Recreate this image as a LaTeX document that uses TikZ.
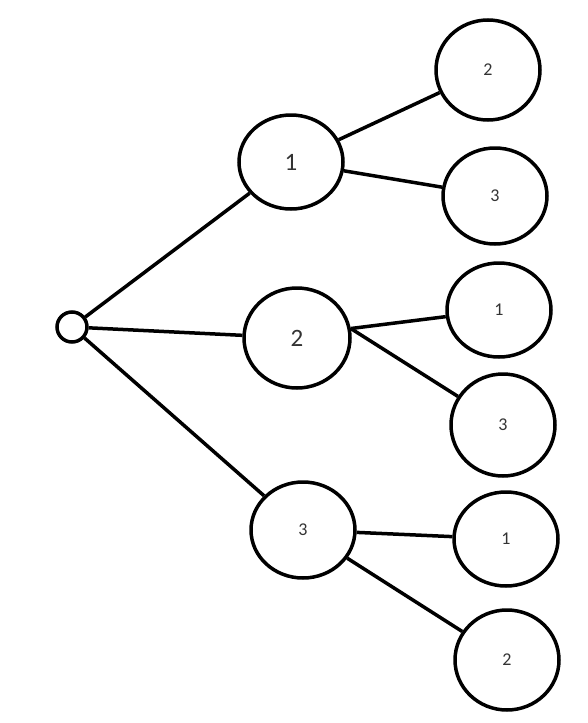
\documentclass[tikz,border=0pt]{standalone}
\usepackage{fontspec}
\setmainfont{Carlito}
\usetikzlibrary{shapes.geometric}

\begin{document}
\begin{tikzpicture}[x=1pt,y=-1pt,line width=3.5pt,
  bubble/.style={ellipse,draw,minimum width=104pt,minimum height=94pt,inner sep=0pt,text=black!80},
  big/.style={font=\fontsize{25}{25}\selectfont},
  small/.style={font=\fontsize{18}{18}\selectfont}]
\useasboundingbox (0,0) rectangle (587,723);

% Root
\node[circle,draw,minimum size=30pt,inner sep=0pt] (root) at (72,327) {};

% First choice
\node[bubble,big] (c1) at (291,162) {1};
\node[bubble,big,minimum width=106pt,minimum height=100pt] (c2) at (297,338) {2};
\node[bubble,small,minimum height=96pt] (c3) at (303,530) {3};

% Second choice
\node[bubble,small,minimum height=100pt] (c12) at (488,70) {2};
\node[bubble,small,minimum height=96pt] (c13) at (495,196) {3};
\node[bubble,small] (c21) at (499,310) {1};
\node[bubble,small,minimum height=102pt] (c23) at (503,425) {3};
\node[bubble,small] (c31) at (506,539) {1};
\node[bubble,small,minimum height=100pt] (c32) at (507,660) {2};

% Edges
\draw (root) -- (c1);
\draw (root) -- (c2);
\draw (root) -- (c3);
\draw (c1) -- (c12);
\draw (c1) -- (c13);
\draw (c2.10) -- (c21);
\draw (c2.10) -- (c23);
\draw (c3) -- (c31);
\draw (c3) -- (c32);
\end{tikzpicture}
\end{document}
